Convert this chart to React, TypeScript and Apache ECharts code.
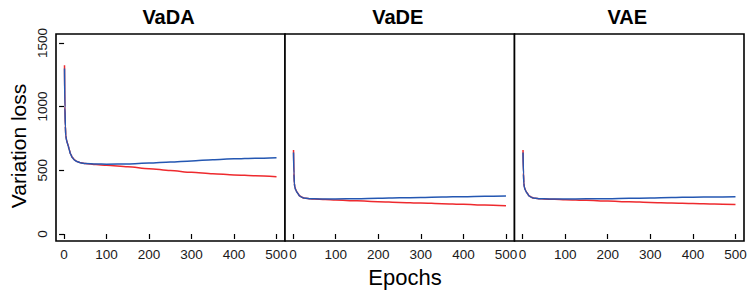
import React, { useEffect, useRef } from "react";
import * as echarts from "echarts";

const panels = ["VaDA", "VaDE", "VAE"];
const epochs = [1, 2, 3, 4, 6, 8, 10, 12, 15, 20, 25, 30, 40, 50, 75, 100, 150, 200, 250, 300, 350, 400, 450, 500];

const vadaRed = [1325, 1000, 850, 775, 735, 712, 690, 665, 630, 598, 580, 570, 559, 553, 545, 539, 527, 513, 498, 484, 473, 464, 457, 450];
const vadaBlue = [1300, 990, 845, 772, 733, 710, 688, 663, 628, 597, 579, 569, 558, 553, 549, 548, 550, 557, 566, 574, 583, 590, 595, 599];

const vadeRed = [660, 480, 400, 370, 350, 335, 325, 315, 300, 290, 283, 280, 277, 274, 270, 266, 260, 254, 248, 243, 238, 233, 228, 222];
const vadeBlue = [640, 470, 398, 368, 348, 333, 323, 313, 299, 289, 283, 280, 277, 276, 275, 275, 277, 280, 284, 287, 290, 293, 296, 298];

const vaeRed = [660, 480, 400, 370, 350, 335, 325, 315, 300, 290, 283, 280, 277, 275, 272, 269, 264, 259, 253, 248, 244, 240, 236, 232];
const vaeBlue = [640, 470, 398, 368, 348, 333, 323, 313, 299, 289, 283, 280, 277, 276, 275, 275, 276, 277, 280, 283, 286, 289, 291, 293];

const xTicks = [0, 100, 200, 300, 400, 500];
const yTicks = [0, 500, 1000, 1500];

const redSeries = [vadaRed, vadeRed, vaeRed];
const blueSeries = [vadaBlue, vadeBlue, vaeBlue];

const FONT = "Liberation Sans, Arial, Helvetica, sans-serif";
const RED = "#ee2a2e";
const BLUE = "#2457b2";

export default function App() {
  const ref = useRef<HTMLDivElement>(null);
  useEffect(() => {
    if (!ref.current) return;
    const chart = echarts.init(ref.current, undefined, { renderer: "svg" });
    const gridLefts = [56, 285, 514.5];
    const gridWidths = [229, 229.5, 229.5];
    const grids = gridLefts.map((l, i) => ({
      left: l,
      top: 34,
      width: gridWidths[i],
      height: 207,
      show: true,
      borderColor: "#000",
      borderWidth: 1.6,
      backgroundColor: "#fff",
    }));
    const fmt = (v: number) => String(Math.round(v));
    const xAxes = panels.map((_, i) => ({
      type: "value",
      gridIndex: i,
      min: -19,
      max: 520,
      splitLine: { show: false },
      axisLine: { show: false },
      axisTick: { show: true, length: 5, inside: false, customValues: xTicks, lineStyle: { color: "#000", width: 1.2 } },
      axisLabel: { show: true, customValues: xTicks, formatter: fmt, margin: 6, fontSize: 13.5, color: "#1a1a1a", fontFamily: FONT },
    }));
    const yAxes = panels.map((_, i) => ({
      type: "value",
      gridIndex: i,
      min: -55,
      max: 1570,
      splitLine: { show: false },
      axisLine: { show: false },
      axisTick: { show: i === 0, length: 5, inside: false, customValues: yTicks, lineStyle: { color: "#000", width: 1.2 } },
      axisLabel: { show: i === 0, customValues: yTicks, formatter: fmt, rotate: 90, margin: 7, fontSize: 13.5, color: "#1a1a1a", fontFamily: FONT },
    }));
    const series: any[] = [];
    panels.forEach((_, i) => {
      series.push({
        type: "line",
        xAxisIndex: i,
        yAxisIndex: i,
        data: epochs.map((e, k) => [e, redSeries[i][k]]),
        showSymbol: false,
        smooth: 0.3,
        smoothMonotone: "x",
        lineStyle: { color: RED, width: 1.5 },
        itemStyle: { color: RED },
      });
      series.push({
        type: "line",
        xAxisIndex: i,
        yAxisIndex: i,
        data: epochs.map((e, k) => [e, blueSeries[i][k]]),
        showSymbol: false,
        smooth: 0.3,
        smoothMonotone: "x",
        lineStyle: { color: BLUE, width: 1.5 },
        itemStyle: { color: BLUE },
      });
    });
    const titleCenters = gridLefts.map((l, i) => l + gridWidths[i] / 2 - 2);
    const graphic: any[] = panels.map((p, i) => ({
      type: "text",
      x: titleCenters[i],
      y: 17,
      style: {
        text: p,
        fontSize: 20,
        fontWeight: "bold",
        fontFamily: FONT,
        fill: "#000",
        textAlign: "center",
        textVerticalAlign: "middle",
      },
    }));
    graphic.push({
      type: "text",
      x: 18,
      y: 146,
      rotation: Math.PI / 2,
      style: {
        text: "Variation loss",
        fontSize: 21,
        fontFamily: FONT,
        fill: "#000",
        textAlign: "center",
        textVerticalAlign: "middle",
      },
    });
    graphic.push({
      type: "text",
      x: 405,
      y: 277,
      style: {
        text: "Epochs",
        fontSize: 22,
        fontFamily: FONT,
        fill: "#000",
        textAlign: "center",
        textVerticalAlign: "middle",
      },
    });
    chart.setOption({
      animation: false,
      backgroundColor: "#fff",
      grid: grids,
      xAxis: xAxes,
      yAxis: yAxes,
      series,
      graphic,
    });
    return () => chart.dispose();
  }, []);
  return (
    <div
      ref={ref}
      style={{ position: "fixed", left: 0, top: 0, width: 753, height: 295 }}
    />
  );
}
